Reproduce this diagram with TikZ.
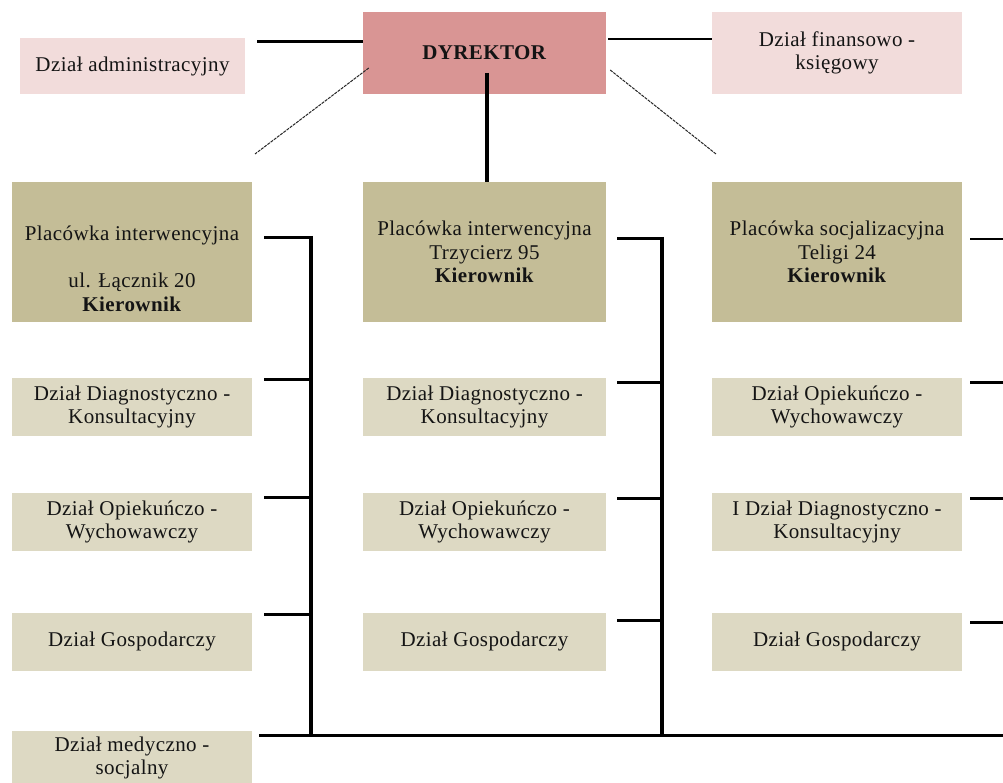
\documentclass[tikz,border=0pt]{standalone}
\usepackage{fontspec}
\setmainfont{Liberation Serif}[LetterSpace=2]
\begin{document}
\begin{tikzpicture}[x=1pt,y=-1pt,
  every node/.style={font=\fontsize{21}{23.5}\selectfont, text=black!92, align=center, inner sep=0pt},
  boxbase/.style={minimum width=#1, draw=none},
  topbox/.style={boxbase=#1, minimum height=82},
  deptbox/.style={boxbase=#1, minimum height=58, fill=unitfill},
  unitbox/.style={boxbase=240, minimum height=140, fill=headfill},
  heavy/.style={line width=4pt, draw=black},
  stub/.style={line width=2.8pt, draw=black},
  thinline/.style={line width=1.5pt, draw=black},
  diag/.style={line width=1pt, draw=black!85, dash pattern=on 3pt off 1pt}
]
\definecolor{dirfill}{HTML}{D99594}
\definecolor{sidefill}{HTML}{F2DCDB}
\definecolor{headfill}{HTML}{C4BD97}
\definecolor{unitfill}{HTML}{DDD9C3}

\useasboundingbox (0,0) rectangle (1003,783);
\clip (0,0) rectangle (1003,783);
\fill[white] (0,0) rectangle (1003,783);

% management level
\node[topbox=225, minimum height=56, fill=sidefill] (adm) at (132.5,66) {Dział administracyjny};
\node[topbox=243, fill=dirfill] (dyr) at (484.5,53) {\textbf{DYREKTOR}};
\node[topbox=250, fill=sidefill] (fin) at (837,53) {Dział finansowo -\\księgowy};

% facilities
\node[unitbox] (u1) at (132,252) {};
\node (u1t) at (132,269) {Placówka interwencyjna\\[23.5pt]ul. Łącznik 20\\\textbf{Kierownik}};
\node[unitbox, minimum width=243] (u2) at (484.5,252) {Placówka interwencyjna\\Trzycierz 95\\\textbf{Kierownik}};
\node[unitbox, minimum width=250] (u3) at (837,252) {Placówka socjalizacyjna\\Teligi 24\\\textbf{Kierownik}};

% departments, column 1
\node[deptbox=240] (a1) at (132,407) {Dział Diagnostyczno -\\Konsultacyjny};
\node[deptbox=240] (a2) at (132,522) {Dział Opiekuńczo -\\Wychowawczy};
\node[deptbox=240] (a3) at (132,641.5) {Dział Gospodarczy};
\node[deptbox=240, minimum height=60] (a4) at (132,761) {};
\node (a4t) at (132,758) {Dział medyczno -\\socjalny};

% departments, column 2
\node[deptbox=243] (b1) at (484.5,407) {Dział Diagnostyczno -\\Konsultacyjny};
\node[deptbox=243] (b2) at (484.5,522) {Dział Opiekuńczo -\\Wychowawczy};
\node[deptbox=243] (b3) at (484.5,641.5) {Dział Gospodarczy};

% departments, column 3
\node[deptbox=250] (c1) at (837,407) {Dział Opiekuńczo -\\Wychowawczy};
\node[deptbox=250] (c2) at (837,522) {I Dział Diagnostyczno -\\Konsultacyjny};
\node[deptbox=250] (c3) at (837,641.5) {Dział Gospodarczy};

% bus lines
\coordinate (busA) at (311,236);
\coordinate (busB) at (662,237);
\coordinate (edgeR) at (1010,735);

% director links
\draw[stub] ([shift={(12,4)}]adm.north east) coordinate (admL) -- (admL -| dyr.west);
\draw[thinline] ([shift={(2,27)}]dyr.north east) coordinate (finL) -- (finL -| fin.west);
\coordinate (dl) at (255,154);
\coordinate (dr) at (716,154);
\draw[diag] ([shift={(6,15)}]dyr.west) -- (dl);
\draw[diag] ([shift={(4,17)}]dyr.east) -- (dr);
\draw[heavy] ([shift={(2.5,20)}]dyr.center) -- ([xshift=2.5]u2.north);

% column 1 connectors
\draw[stub] ([shift={(12,56)}]u1.north east) coordinate (s0) -- (s0 -| busA);
\draw[stub] ([shift={(12,2)}]a1.north east) coordinate (s1) -- (s1 -| busA);
\draw[stub] ([shift={(12,5)}]a2.north east) coordinate (s2) -- (s2 -| busA);
\draw[stub] ([shift={(12,2)}]a3.north east) coordinate (s3) -- (s3 -| busA);
\draw[heavy] (busA) -- (busA |- edgeR);

% column 2 connectors
\draw[stub] ([shift={(11,57)}]u2.north east) coordinate (t0) -- (t0 -| busB);
\draw[stub] ([shift={(11,5)}]b1.north east) coordinate (t1) -- (t1 -| busB);
\draw[stub] ([shift={(11,6)}]b2.north east) coordinate (t2) -- (t2 -| busB);
\draw[stub] ([shift={(11,8)}]b3.north east) coordinate (t3) -- (t3 -| busB);
\draw[heavy] (busB) -- (busB |- edgeR);

% column 3 connectors
\draw[thinline] ([shift={(8,57)}]u3.north east) coordinate (r0) -- (r0 -| edgeR);
\draw[stub] ([shift={(8,5)}]c1.north east) coordinate (r1) -- (r1 -| edgeR);
\draw[stub] ([shift={(8,6)}]c2.north east) coordinate (r2) -- (r2 -| edgeR);
\draw[stub] ([shift={(8,10)}]c3.north east) coordinate (r3) -- (r3 -| edgeR);

% common base line
\draw[line width=3pt] ([xshift=7]a4.east |- edgeR) -- (edgeR);
\end{tikzpicture}
\end{document}
